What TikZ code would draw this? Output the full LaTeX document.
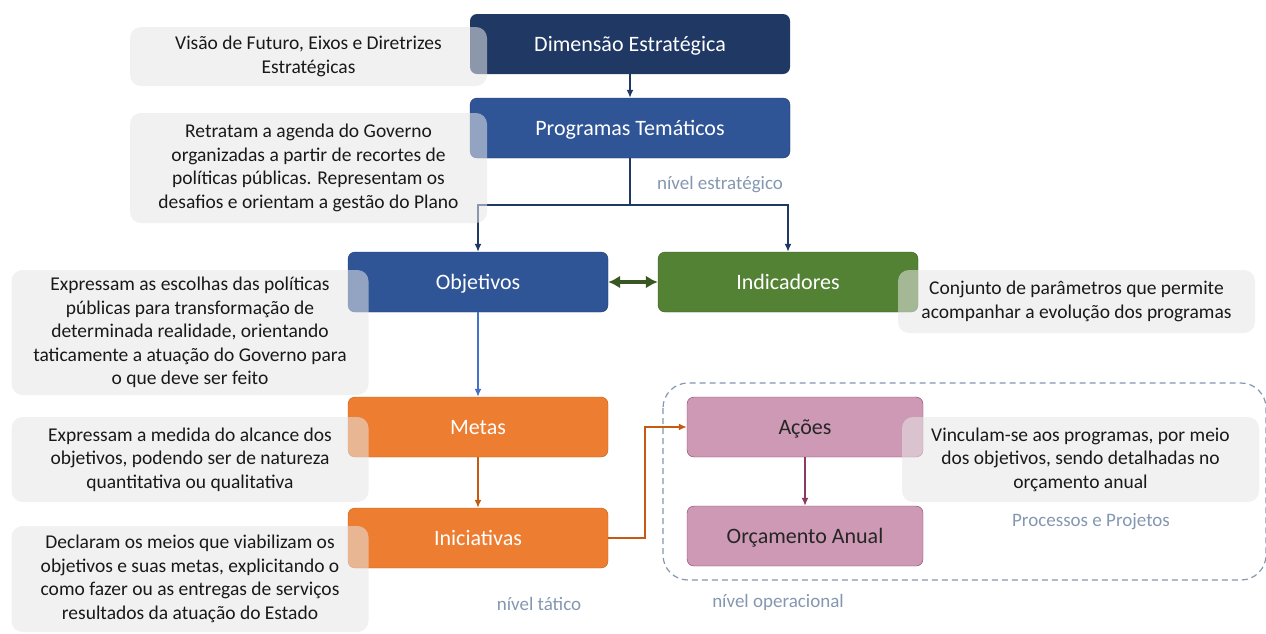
\documentclass[tikz,border=0pt]{standalone}
\usepackage{fontspec}
\setmainfont{Carlito}
\usetikzlibrary{positioning,arrows.meta}

\definecolor{navy}{HTML}{203864}
\definecolor{azul}{HTML}{2F5597}
\definecolor{azulclaro}{HTML}{4472C4}
\definecolor{verde}{HTML}{548235}
\definecolor{verdeescuro}{HTML}{385723}
\definecolor{laranja}{HTML}{ED7D31}
\definecolor{laranjaescuro}{HTML}{C55A11}
\definecolor{malva}{HTML}{CD99B4}
\definecolor{ameixa}{HTML}{8B3A62}
\definecolor{cinzanota}{HTML}{E6E6E6}
\definecolor{nivel}{HTML}{8497B0}

\tikzset{
    caixa/.style={rectangle, rounded corners=7pt, minimum height=60pt, inner sep=0pt,
        text depth=0pt, font=\fontsize{22}{26}\selectfont, text=white},
    nota/.style={rectangle, rounded corners=11pt, fill=cinzanota, fill opacity=0.55,
        text opacity=1, minimum width=357pt, inner sep=0pt, align=center,
        text=black!90, font=\fontsize{19.5}{23.5}\selectfont},
    rotulo/.style={text=nivel, font=\fontsize{19}{22}\selectfont},
    liga/.style={line width=1.5pt},
}

\begin{document}
\begin{tikzpicture}[x=1pt,y=-1pt,>={Latex[length=8pt,width=7pt]}]
                \useasboundingbox (0,0) rectangle (1266,633);
                % nivel estrategico
                \node[caixa, fill=navy, minimum width=320pt] (dim) at (630,44) {Dimensão Estratégica};
                \node[caixa, fill=azul, draw=navy, minimum width=320pt] (prog) at (630,128) {Programas Temáticos};
                \node[caixa, fill=azul, draw=navy, minimum width=260pt] (obj) at (478,282) {Objetivos};
                \node[caixa, fill=verde, draw=verdeescuro, minimum width=260pt] (ind) at (788,282) {Indicadores};
                % nivel tatico
                \node[caixa, fill=laranja, draw=laranjaescuro, minimum width=260pt] (metas) at (478,427) {Metas};
                \node[caixa, fill=laranja, draw=laranjaescuro, minimum width=260pt] (ini) at (478,538) {Iniciativas};
                % nivel operacional
                \draw[nivel, line width=1.2pt, dash pattern=on 6pt off 4pt, rounded corners=25pt] (663,383) rectangle (1266,580);
                \node[caixa, fill=malva, draw=ameixa, text=black!85, minimum width=236pt] (acoes) at (805,427) {Ações};
                \node[caixa, fill=malva, draw=ameixa, text=black!85, minimum width=236pt] (orc) at (805,536) {Orçamento Anual};

                \coordinate (split) at (630,205);
                \draw[navy, liga, ->] (dim) -- (prog);
                \draw[navy, liga] (prog) -- (split);
                \draw[navy, liga, ->] (split) -| (obj.north);
                \draw[navy, liga, ->] (split) -| (ind.north);
                \draw[verdeescuro, line width=3.5pt, {Latex[length=12pt,width=13pt]}-{Latex[length=12pt,width=13pt]}] (obj) -- (ind);
                \draw[azulclaro, liga, ->] (obj) -- (metas);
                \draw[laranjaescuro, liga, ->] (metas) -- (ini);
                \draw[laranjaescuro, liga, ->] (ini.east) -- ++(37,0) |- (acoes.west);
                \draw[ameixa, liga, ->] (acoes) -- (orc);

                % notas
                \node[nota, minimum height=59pt] (n1) at (308.5,56.5) {Visão de Futuro, Eixos e Diretrizes\\Estratégicas};
                \node[nota, minimum height=110pt] (n2) at (308.5,168) {Retratam a agenda do Governo\\organizadas a partir de recortes de\\políticas públicas. Representam os\\desafios e orientam a gestão do Plano};
                \node[nota, minimum height=125pt] (n3) at (190,332.5) {Expressam as escolhas das políticas\\públicas para transformação de\\determinada realidade, orientando\\taticamente a atuação do Governo para\\o que deve ser feito};
                \node[nota, minimum height=63pt] (n4) at (1076.5,301.5) {Conjunto de parâmetros que permite\\acompanhar a evolução dos programas};
                \node[nota, minimum height=85pt] (n5) at (190,459.5) {Expressam a medida do alcance dos\\objetivos, podendo ser de natureza\\quantitativa ou qualitativa};
                \node[nota, minimum height=106pt] (n6) at (190,579) {Declaram os meios que viabilizam os\\objetivos e suas metas, explicitando o\\como fazer ou as entregas de serviços\\resultados da atuação do Estado};
                \node[nota, minimum height=85pt] (n7) at (1080.5,459.5) {Vinculam-se aos programas, por meio\\dos objetivos, sendo detalhadas no\\orçamento anual};

                \node[rotulo] (estr) at (720,185) {nível estratégico};
                \node[rotulo] (tat) at (539,604) {nível tático};
                \node[rotulo] (proc) at (1091,522) {Processos e Projetos};
                \node[rotulo] (oper) at (778,602) {nível operacional};
            \end{tikzpicture}
\end{document}
